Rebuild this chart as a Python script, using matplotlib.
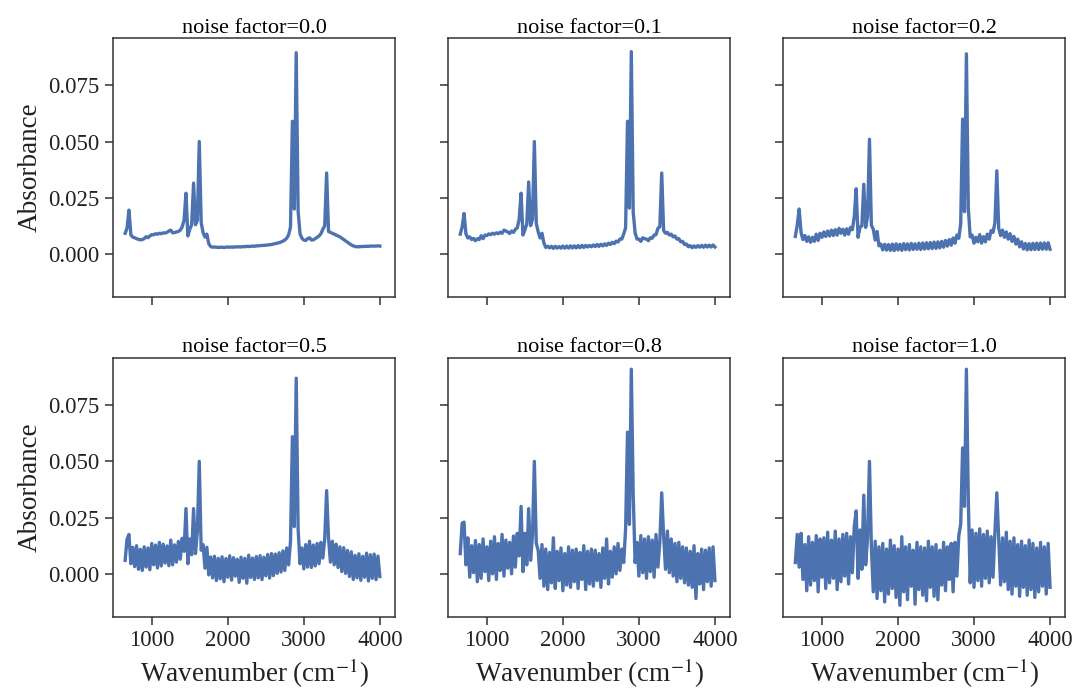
import numpy as np
import matplotlib
matplotlib.use("Agg")
import matplotlib.pyplot as plt

# wavenumber grid of the spectra (cm^-1), 25 cm^-1 steps
wavenumber = np.arange(650, 4001, 25)

noise_factors = [0.0, 0.1, 0.2, 0.5, 0.8, 1.0]

# absorbance, 10 values per row (650-875, 900-1125, ...)
absorbance_nf00 = [
    0.0092, 0.0115, 0.0195, 0.0085, 0.0075, 0.0072, 0.0068, 0.0065, 0.0063, 0.0064,
    0.0068, 0.0077, 0.0072, 0.0080, 0.0086, 0.0085, 0.0090, 0.0088, 0.0092, 0.0090,
    0.0094, 0.0093, 0.0096, 0.0102, 0.0106, 0.0094, 0.0095, 0.0098, 0.0100, 0.0106,
    0.0120, 0.0150, 0.0270, 0.0080, 0.0110, 0.0130, 0.0315, 0.0130, 0.0150, 0.0500,
    0.0140, 0.0095, 0.0075, 0.0088, 0.0045, 0.0033, 0.0030, 0.0031, 0.0030, 0.0029,
    0.0030, 0.0030, 0.0029, 0.0030, 0.0031, 0.0030, 0.0031, 0.0030, 0.0032, 0.0031,
    0.0032, 0.0031, 0.0033, 0.0032, 0.0034, 0.0033, 0.0034, 0.0035, 0.0034, 0.0036,
    0.0036, 0.0037, 0.0038, 0.0038, 0.0039, 0.0040, 0.0041, 0.0042, 0.0044, 0.0046,
    0.0048, 0.0050, 0.0053, 0.0057, 0.0062, 0.0070, 0.0085, 0.0120, 0.0590, 0.0200,
    0.0895, 0.0190, 0.0090, 0.0070, 0.0062, 0.0060, 0.0068, 0.0072, 0.0062, 0.0063,
    0.0068, 0.0074, 0.0080, 0.0090, 0.0110, 0.0125, 0.0360, 0.0100, 0.0096, 0.0092,
    0.0088, 0.0084, 0.0080, 0.0076, 0.0070, 0.0064, 0.0058, 0.0052, 0.0046, 0.0040,
    0.0036, 0.0033, 0.0032, 0.0032, 0.0033, 0.0033, 0.0034, 0.0034, 0.0034, 0.0035,
    0.0035, 0.0035, 0.0035, 0.0036, 0.0035,
]

absorbance_nf01 = [
    0.0088, 0.0120, 0.0180, 0.0089, 0.0071, 0.0076, 0.0064, 0.0069, 0.0059, 0.0068,
    0.0064, 0.0081, 0.0068, 0.0084, 0.0082, 0.0089, 0.0086, 0.0092, 0.0088, 0.0094,
    0.0090, 0.0097, 0.0092, 0.0106, 0.0102, 0.0098, 0.0091, 0.0102, 0.0096, 0.0110,
    0.0116, 0.0154, 0.0270, 0.0084, 0.0106, 0.0134, 0.0320, 0.0126, 0.0154, 0.0500,
    0.0136, 0.0099, 0.0071, 0.0092, 0.0049, 0.0029, 0.0034, 0.0027, 0.0034, 0.0025,
    0.0034, 0.0026, 0.0033, 0.0026, 0.0035, 0.0026, 0.0035, 0.0026, 0.0036, 0.0027,
    0.0036, 0.0027, 0.0037, 0.0028, 0.0038, 0.0029, 0.0038, 0.0031, 0.0038, 0.0032,
    0.0040, 0.0033, 0.0042, 0.0034, 0.0043, 0.0036, 0.0045, 0.0038, 0.0048, 0.0042,
    0.0052, 0.0046, 0.0057, 0.0053, 0.0066, 0.0066, 0.0089, 0.0116, 0.0590, 0.0204,
    0.0900, 0.0186, 0.0094, 0.0066, 0.0066, 0.0056, 0.0072, 0.0068, 0.0066, 0.0059,
    0.0072, 0.0070, 0.0084, 0.0086, 0.0114, 0.0121, 0.0360, 0.0104, 0.0092, 0.0096,
    0.0084, 0.0088, 0.0076, 0.0080, 0.0066, 0.0068, 0.0054, 0.0056, 0.0042, 0.0044,
    0.0032, 0.0037, 0.0028, 0.0036, 0.0029, 0.0037, 0.0030, 0.0038, 0.0030, 0.0039,
    0.0031, 0.0039, 0.0031, 0.0040, 0.0031,
]

absorbance_nf02 = [
    0.0078, 0.0128, 0.0200, 0.0096, 0.0064, 0.0082, 0.0056, 0.0076, 0.0052, 0.0074,
    0.0056, 0.0088, 0.0060, 0.0092, 0.0074, 0.0098, 0.0078, 0.0102, 0.0080, 0.0106,
    0.0082, 0.0108, 0.0084, 0.0114, 0.0092, 0.0110, 0.0084, 0.0112, 0.0088, 0.0118,
    0.0108, 0.0166, 0.0290, 0.0074, 0.0120, 0.0124, 0.0310, 0.0118, 0.0166, 0.0510,
    0.0128, 0.0110, 0.0062, 0.0100, 0.0036, 0.0044, 0.0018, 0.0043, 0.0017, 0.0042,
    0.0016, 0.0044, 0.0015, 0.0045, 0.0018, 0.0043, 0.0016, 0.0046, 0.0019, 0.0045,
    0.0018, 0.0047, 0.0020, 0.0045, 0.0021, 0.0048, 0.0020, 0.0049, 0.0022, 0.0050,
    0.0023, 0.0051, 0.0024, 0.0053, 0.0025, 0.0054, 0.0027, 0.0056, 0.0030, 0.0060,
    0.0035, 0.0064, 0.0039, 0.0071, 0.0048, 0.0084, 0.0070, 0.0134, 0.0600, 0.0188,
    0.0890, 0.0204, 0.0076, 0.0084, 0.0048, 0.0074, 0.0054, 0.0086, 0.0048, 0.0077,
    0.0054, 0.0088, 0.0066, 0.0104, 0.0096, 0.0138, 0.0370, 0.0114, 0.0082, 0.0106,
    0.0074, 0.0098, 0.0066, 0.0090, 0.0056, 0.0078, 0.0044, 0.0066, 0.0032, 0.0054,
    0.0022, 0.0047, 0.0018, 0.0046, 0.0019, 0.0047, 0.0020, 0.0048, 0.0020, 0.0049,
    0.0021, 0.0049, 0.0021, 0.0050, 0.0021,
]

absorbance_nf05 = [
    0.0060, 0.0155, 0.0175, 0.0045, 0.0118, 0.0032, 0.0125, 0.0020, 0.0109, 0.0015,
    0.0120, 0.0030, 0.0115, 0.0018, 0.0135, 0.0040, 0.0128, 0.0026, 0.0140, 0.0035,
    0.0132, 0.0048, 0.0124, 0.0036, 0.0150, 0.0040, 0.0129, 0.0052, 0.0144, 0.0065,
    0.0158, 0.0100, 0.0290, 0.0045, 0.0155, 0.0085, 0.0290, 0.0090, 0.0190, 0.0500,
    0.0105, 0.0130, 0.0025, 0.0118, -0.0005, 0.0075, -0.0018, 0.0078, -0.0030, 0.0069,
    -0.0022, 0.0076, -0.0035, 0.0068, -0.0015, 0.0080, -0.0028, 0.0072, -0.0010, 0.0065,
    -0.0038, 0.0074, -0.0020, 0.0069, -0.0042, 0.0083, -0.0016, 0.0070, -0.0025, 0.0077,
    -0.0018, 0.0081, -0.0026, 0.0074, -0.0009, 0.0086, -0.0019, 0.0090, -0.0008, 0.0088,
    0.0002, 0.0094, 0.0008, 0.0102, 0.0015, 0.0115, 0.0040, 0.0145, 0.0610, 0.0210,
    0.0870, 0.0200, 0.0045, 0.0115, 0.0022, 0.0130, 0.0030, 0.0145, 0.0028, 0.0128,
    0.0035, 0.0135, 0.0045, 0.0140, 0.0070, 0.0155, 0.0370, 0.0158, 0.0052, 0.0145,
    0.0040, 0.0132, 0.0028, 0.0120, 0.0010, 0.0116, 0.0002, 0.0104, -0.0012, 0.0098,
    -0.0025, 0.0082, -0.0018, 0.0089, -0.0029, 0.0078, -0.0015, 0.0092, -0.0032, 0.0085,
    -0.0020, 0.0088, -0.0026, 0.0079, -0.0012,
]

absorbance_nf08 = [
    0.0090, 0.0225, 0.0230, 0.0040, 0.0160, -0.0015, 0.0125, 0.0005, 0.0148, -0.0035,
    0.0130, -0.0020, 0.0155, 0.0010, 0.0120, -0.0030, 0.0145, 0.0000, 0.0165, -0.0025,
    0.0135, 0.0015, 0.0175, -0.0010, 0.0150, 0.0025, 0.0140, 0.0000, 0.0168, 0.0030,
    0.0180, 0.0080, 0.0300, 0.0010, 0.0180, 0.0040, 0.0290, 0.0060, 0.0170, 0.0500,
    0.0135, 0.0105, -0.0020, 0.0130, -0.0055, 0.0110, -0.0070, 0.0095, -0.0040, 0.0160,
    -0.0065, 0.0100, -0.0030, 0.0115, -0.0075, 0.0090, -0.0050, 0.0120, -0.0060, 0.0105,
    -0.0035, 0.0110, -0.0065, 0.0095, -0.0025, 0.0125, -0.0070, 0.0100, -0.0045, 0.0110,
    -0.0055, 0.0105, -0.0030, 0.0090, -0.0060, 0.0115, -0.0020, 0.0155, -0.0045, 0.0100,
    -0.0015, 0.0120, 0.0000, 0.0135, 0.0015, 0.0110, 0.0050, 0.0200, 0.0630, 0.0220,
    0.0910, 0.0350, 0.0050, 0.0140, -0.0010, 0.0170, 0.0005, 0.0155, -0.0020, 0.0165,
    0.0010, 0.0150, -0.0015, 0.0175, 0.0030, 0.0140, 0.0360, 0.0170, 0.0020, 0.0190,
    0.0005, 0.0155, -0.0010, 0.0135, -0.0035, 0.0140, -0.0020, 0.0120, -0.0040, 0.0115,
    -0.0050, 0.0100, -0.0060, 0.0125, -0.0110, 0.0090, -0.0045, 0.0110, -0.0070, 0.0105,
    -0.0035, 0.0115, -0.0055, 0.0120, -0.0030,
]

absorbance_nf10 = [
    0.0050, 0.0175, 0.0030, 0.0180, -0.0025, 0.0130, -0.0075, 0.0165, -0.0050, 0.0140,
    -0.0030, 0.0170, -0.0080, 0.0155, -0.0015, 0.0160, -0.0065, 0.0185, -0.0040, 0.0150,
    -0.0020, 0.0190, -0.0070, 0.0155, -0.0035, 0.0175, -0.0010, 0.0180, -0.0045, 0.0165,
    0.0005, 0.0210, 0.0280, -0.0020, 0.0195, 0.0020, 0.0350, 0.0040, 0.0160, 0.0500,
    0.0120, -0.0080, 0.0145, -0.0110, 0.0120, -0.0075, 0.0135, -0.0125, 0.0110, -0.0090,
    0.0150, -0.0065, 0.0125, -0.0105, 0.0110, -0.0140, 0.0165, -0.0080, 0.0120, -0.0115,
    0.0130, -0.0055, 0.0105, -0.0135, 0.0140, -0.0070, 0.0120, -0.0095, 0.0115, -0.0120,
    0.0145, -0.0060, 0.0120, -0.0100, 0.0130, -0.0115, 0.0105, -0.0050, 0.0140, -0.0075,
    0.0120, -0.0025, 0.0135, -0.0080, 0.0140, -0.0010, 0.0170, 0.0220, 0.0560, 0.0300,
    0.0910, 0.0330, -0.0040, 0.0195, -0.0060, 0.0180, -0.0030, 0.0200, -0.0055, 0.0175,
    -0.0020, 0.0190, -0.0040, 0.0165, -0.0015, 0.0185, 0.0360, 0.0150, -0.0050, 0.0160,
    -0.0035, 0.0185, -0.0070, 0.0145, -0.0090, 0.0160, -0.0055, 0.0130, -0.0100, 0.0145,
    -0.0060, 0.0125, -0.0095, 0.0150, -0.0070, 0.0135, -0.0105, 0.0115, -0.0080, 0.0140,
    -0.0055, 0.0120, -0.0090, 0.0135, -0.0060,
]

spectra = [absorbance_nf00, absorbance_nf01, absorbance_nf02,
           absorbance_nf05, absorbance_nf08, absorbance_nf10]

plt.rcParams['font.family'] = ['Liberation Serif', 'DejaVu Serif']
plt.rcParams['mathtext.fontset'] = 'stix'

line_color = '#4c72b0'
edge_color = '#333333'

fig, axes = plt.subplots(2, 3, figsize=(10.76, 6.93), dpi=100, sharex=True, sharey=True)
fig.subplots_adjust(left=0.105, right=0.99, bottom=0.11, top=0.945, wspace=0.188, hspace=0.236)

for ax, nf, absorb in zip(axes.flat, noise_factors, spectra):
    ax.plot(wavenumber, absorb, color=line_color, lw=2.4)
    ax.set_title(f"noise factor={nf}", fontsize=16, pad=4)
    for spine in ax.spines.values():
        spine.set_color(edge_color)
        spine.set_linewidth(1.1)
    ax.tick_params(direction='out', length=6, width=1.1, color=edge_color,
                   labelsize=16.5, labelcolor='#222222')

ax0 = axes[0, 0]
ax0.set_xlim(490, 4200)
ax0.set_ylim(-0.0191, 0.0960)
ax0.set_xticks([1000, 2000, 3000, 4000])
ax0.set_yticks([0.0, 0.025, 0.050, 0.075])
ax0.yaxis.set_major_formatter(matplotlib.ticker.FormatStrFormatter('%.3f'))

for ax in axes[:, 0]:
    ax.set_ylabel("Absorbance", fontsize=19.5, color='#222222')
for ax in axes[1, :]:
    ax.set_xlabel("Wavenumber (cm$^{-1}$)", fontsize=19.5, color='#222222')

fig.savefig("out.png", dpi=100)
